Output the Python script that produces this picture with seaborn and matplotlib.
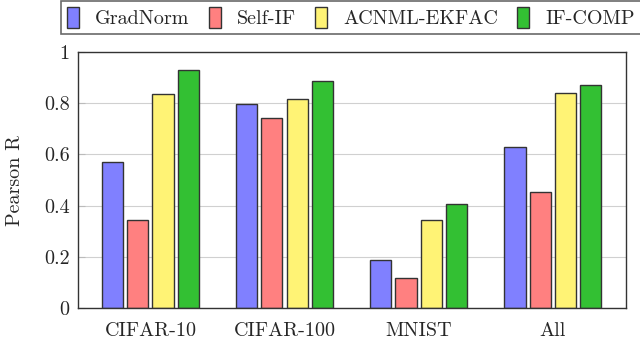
import matplotlib
matplotlib.use("Agg")
import matplotlib.pyplot as plt
import seaborn as sns
import pandas as pd

categories = ["CIFAR-10", "CIFAR-100", "MNIST", "All"]
methods = ["GradNorm", "Self-IF", "ACNML-EKFAC", "IF-COMP"]
gradnorm = [0.569, 0.797, 0.189, 0.630]
self_if = [0.345, 0.744, 0.118, 0.454]
acnml = [0.836, 0.818, 0.342, 0.840]
if_comp = [0.928, 0.888, 0.405, 0.872]
colors = ["#8080FF", "#FF8080", "#FFF375", "#33C033"]
yticks = [0, 0.2, 0.4, 0.6, 0.8, 1]
ytick_labels = ["0", "0.2", "0.4", "0.6", "0.8", "1"]

rows = []
for m, vals in zip(methods, [gradnorm, self_if, acnml, if_comp]):
    for c, v in zip(categories, vals):
        rows.append({"Dataset": c, "Method": m, "Pearson R": v})
df = pd.DataFrame(rows)

sns.set_theme(style="white")
plt.rcParams["font.family"] = ["cmr10", "DejaVu Serif"]
plt.rcParams["axes.formatter.use_mathtext"] = True

FS = 14.5
fig = plt.figure(figsize=(6.4, 3.41), dpi=100)
ax = fig.add_axes([78/640, 1-308/341, (626-78)/640, (308-52)/341])

sns.barplot(data=df, x="Dataset", y="Pearson R", hue="Method",
            hue_order=methods, order=categories, palette=colors,
            width=0.75, gap=0.16, edgecolor="#333333", linewidth=1.0,
            saturation=1, ax=ax, legend=True)

ax.set_xlim(-0.54, 3.547)
ax.set_ylim(0, 1)
ax.set_yticks(yticks)
ax.set_yticklabels(ytick_labels)
ax.yaxis.grid(True, color="#d0d0d0", linewidth=0.8)
ax.set_axisbelow(True)
for s in ax.spines.values():
    s.set_visible(True)
    s.set_color("#333333")
    s.set_linewidth(1.0)
ax.tick_params(axis="x", direction="out", length=6, color="#bbbbbb", width=0.8, labelsize=FS, pad=4)
ax.tick_params(axis="y", direction="in", length=5, color="#bbbbbb", width=0.8, labelsize=FS, pad=6, left=True)
ax.set_xlabel("")
ax.set_ylabel("Pearson R", fontsize=FS, labelpad=14)

leg = ax.legend(loc="upper center", bbox_to_anchor=(351/640, 1 - 1/341),
                bbox_transform=fig.transFigure, ncol=4,
                frameon=True, fancybox=False, fontsize=FS,
                handlelength=0.6, handleheight=1.2, handletextpad=0.8,
                columnspacing=0.95, borderpad=0.3, borderaxespad=0)
leg.get_frame().set_edgecolor("#444444")
leg.get_frame().set_linewidth(1.2)

fig.savefig("out.png", dpi=100)
